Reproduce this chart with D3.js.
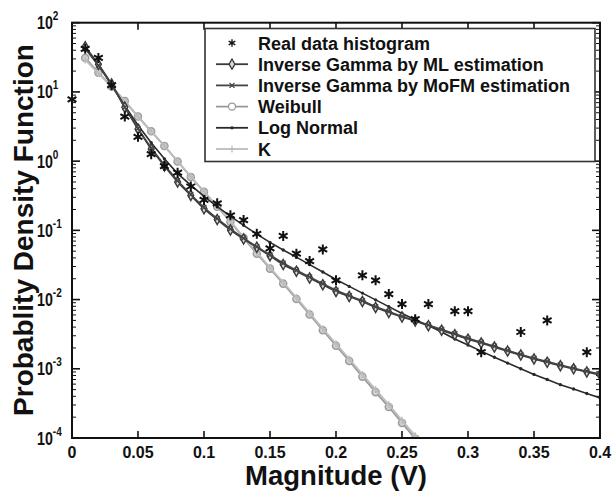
<!DOCTYPE html>
<html>
<head>
<meta charset="utf-8">
<script src="https://cdn.jsdelivr.net/npm/d3@7"></script>
<style>
    body { margin: 0; background: white; }
    svg text { font-family: "Liberation Sans", Arial, Helvetica, sans-serif; font-weight: bold; }
</style>
</head>
<body>
<svg id="chart" width="613" height="491"></svg>
<script>
// magnitude grid shared by the fitted curves
const magnitude = [0.01, 0.02, 0.03, 0.04, 0.05, 0.06, 0.07, 0.08, 0.09, 0.10,
                   0.11, 0.12, 0.13, 0.14, 0.15, 0.16, 0.17, 0.18, 0.19, 0.20,
                   0.21, 0.22, 0.23, 0.24, 0.25, 0.26, 0.27, 0.28, 0.29, 0.30,
                   0.31, 0.32, 0.33, 0.34, 0.35, 0.36, 0.37, 0.38, 0.39, 0.40];

const invGammaML = [45, 25, 13, 6.0, 2.9, 1.5, 0.85, 0.50, 0.32, 0.205,
                    0.143, 0.101, 0.075, 0.057, 0.043, 0.032, 0.0257, 0.0205, 0.0164, 0.0131,
                    0.0111, 0.0094, 0.0077, 0.0065, 0.0056, 0.0049, 0.0042, 0.0036, 0.0031, 0.00268,
                    0.00236, 0.00206, 0.0018, 0.00158, 0.00139, 0.00124, 0.00111, 0.001, 0.0009, 0.00082];

const invGammaMoFM = [42, 24, 12.8, 6.0, 2.95, 1.55, 0.88, 0.52, 0.33, 0.213,
                      0.148, 0.105, 0.077, 0.058, 0.044, 0.0335, 0.0265, 0.0212, 0.0169, 0.0136,
                      0.0114, 0.0096, 0.0079, 0.0067, 0.0057, 0.005, 0.0043, 0.0037, 0.0032, 0.00275,
                      0.00242, 0.00211, 0.00184, 0.00161, 0.00142, 0.00127, 0.00113, 0.00102, 0.00092, 0.00084];

const logNormal = [43, 25, 12.5, 6.3, 3.3, 1.85, 1.08, 0.66, 0.45, 0.31,
                   0.22, 0.16, 0.118, 0.088, 0.067, 0.052, 0.041, 0.032, 0.025, 0.0195,
                   0.0155, 0.0124, 0.0099, 0.0079, 0.0063, 0.0051, 0.0042, 0.0034, 0.0027, 0.0022,
                   0.0018, 0.00147, 0.00121, 0.001, 0.00083, 0.0007, 0.00059, 0.00051, 0.00044, 0.00038];

const weibull = [31, 19, 12, 7.4, 4.4, 2.7, 1.66, 0.99, 0.59, 0.36,
                 0.22, 0.133, 0.078, 0.046, 0.028, 0.017, 0.0102, 0.0061, 0.0036, 0.00215,
                 0.0013, 0.00077, 0.00046, 0.00028, 0.000165, 0.000098, 0.000058];

const kDist = [29, 18.5, 11.8, 7.3, 4.4, 2.7, 1.66, 1.0, 0.6, 0.365,
               0.224, 0.136, 0.08, 0.048, 0.029, 0.0177, 0.0107, 0.0064, 0.0038, 0.0023,
               0.00139, 0.00083, 0.0005, 0.000305, 0.00018, 0.000108, 0.000065];

// real data histogram (stars)
const histX = [0, 0.01, 0.02, 0.03, 0.04, 0.05, 0.06, 0.07, 0.08, 0.09, 0.10,
               0.11, 0.12, 0.13, 0.14, 0.15, 0.16, 0.17, 0.18, 0.19, 0.20,
               0.22, 0.23, 0.24, 0.25, 0.26, 0.27, 0.29, 0.30, 0.31, 0.34, 0.36, 0.39];
const histY = [7.8, 42, 31, 12.5, 4.4, 2.25, 1.26, 0.85, 0.68, 0.43, 0.275,
               0.246, 0.165, 0.141, 0.089, 0.055, 0.083, 0.046, 0.036, 0.053, 0.019,
               0.0224, 0.019, 0.012, 0.0086, 0.0052, 0.0086, 0.0068, 0.0068, 0.00174, 0.0034, 0.005, 0.00174];

const xTicks = [0, 0.05, 0.1, 0.15, 0.2, 0.25, 0.3, 0.35, 0.4];
const xTickLabels = ["0", "0.05", "0.1", "0.15", "0.2", "0.25", "0.3", "0.35", "0.4"];
const yExponents = [2, 1, 0, -1, -2, -3, -4];

const legendNames = ["Real data histogram", "Inverse Gamma by ML estimation",
                     "Inverse Gamma by MoFM estimation", "Weibull", "Log Normal", "K"];

const svg = d3.select("#chart");
const plotLeft = 72, plotRight = 600, plotTop = 22.7, plotBottom = 438;

const x = d3.scaleLinear().domain([0, 0.4]).range([plotLeft, plotRight]);
const y = d3.scaleLog().domain([1e-4, 100]).range([plotBottom, plotTop]);

svg.append("defs").append("clipPath").attr("id", "plotclip")
    .append("rect").attr("x", plotLeft).attr("y", plotTop)
    .attr("width", plotRight - plotLeft).attr("height", plotBottom - plotTop);

// ticks, inward on all four sides
let tickG = svg.append("g").attr("stroke", "#111");
xTicks.forEach(t => {
    tickG.append("line").attr("x1", x(t)).attr("x2", x(t)).attr("y1", plotBottom).attr("y2", plotBottom - 7).attr("stroke-width", 1.6);
    tickG.append("line").attr("x1", x(t)).attr("x2", x(t)).attr("y1", plotTop).attr("y2", plotTop + 7).attr("stroke-width", 1.6);
});
yExponents.forEach(e => {
    let base = Math.pow(10, e);
    tickG.append("line").attr("x1", plotLeft).attr("x2", plotLeft + 8).attr("y1", y(base)).attr("y2", y(base)).attr("stroke-width", 1.6);
    tickG.append("line").attr("x1", plotRight).attr("x2", plotRight - 8).attr("y1", y(base)).attr("y2", y(base)).attr("stroke-width", 1.6);
    if (e < 2) {
        for (let m = 2; m <= 9; m++) {
            let v = base * m;
            tickG.append("line").attr("x1", plotLeft).attr("x2", plotLeft + 4).attr("y1", y(v)).attr("y2", y(v)).attr("stroke-width", 1);
            tickG.append("line").attr("x1", plotRight).attr("x2", plotRight - 4).attr("y1", y(v)).attr("y2", y(v)).attr("stroke-width", 1);
        }
    }
});

// tick labels
svg.selectAll(".xlab").data(xTicks).enter().append("text")
    .attr("class", "xlab")
    .attr("x", d => x(d)).attr("y", 458)
    .attr("text-anchor", "middle").attr("font-size", 16).attr("font-weight", "bold").attr("fill", "#111")
    .text((d, i) => xTickLabels[i]);

// "10" with superscript exponent, condensed like the original
let ylab = svg.selectAll(".ylab").data(yExponents).enter().append("text")
    .attr("class", "ylab")
    .attr("transform", d => "translate(37," + (y(Math.pow(10, d)) + 6.5) + ") scale(0.77,1)")
    .attr("font-size", 18.5).attr("font-weight", "bold").attr("fill", "#111");
ylab.append("tspan").text("10");
ylab.append("tspan").attr("font-size", 13).attr("dy", -9).text(d => d);

// axis titles
svg.append("text").attr("x", 336).attr("y", 485).attr("text-anchor", "middle")
    .attr("font-size", 27.5).attr("font-weight", "bold").attr("fill", "#111").text("Magnitude (V)");
svg.append("text").attr("transform", "translate(33,230) rotate(-90)").attr("text-anchor", "middle")
    .attr("font-size", 28).attr("font-weight", "bold").attr("fill", "#111").text("Probablity Density Function");

// curves
const plot = svg.append("g").attr("clip-path", "url(#plotclip)");
const line = d3.line().x(d => x(d[0])).y(d => y(d[1]));

function pairs(vals) { return vals.map((v, i) => [magnitude[i], v]); }

const starPath = "M0,-5V5M-4.4,-2.5L4.4,2.5M-4.4,2.5L4.4,-2.5";
const marks = {
    diamond: d3.symbol().type(d3.symbolDiamond).size(30)(),
    cross: "M-2.5,-2.5L2.5,2.5M-2.5,2.5L2.5,-2.5",
    circle: d3.symbol().type(d3.symbolCircle).size(40)(),
    dot: d3.symbol().type(d3.symbolCircle).size(3)(),
    plus: "M-3.5,0H3.5M0,-3.5V3.5"
};

const series = [
    {vals: weibull, color: "#9a9a9a", width: 1.8, mark: "circle", fill: "#cfcfcf"},
    {vals: kDist, color: "#bdbdbd", width: 1.8, mark: "plus", fill: "none"},
    {vals: logNormal, color: "#2a2a2a", width: 1.6, mark: "dot", fill: "#2a2a2a"},
    {vals: invGammaML, color: "#3a3a3a", width: 1.8, mark: "diamond", fill: "#d8d8d8"},
    {vals: invGammaMoFM, color: "#444", width: 1.6, mark: "cross", fill: "none"}
];

series.forEach(s => {
    let data = pairs(s.vals);
    plot.append("path").datum(data).attr("d", line)
        .attr("fill", "none").attr("stroke", s.color).attr("stroke-width", s.width);
    plot.selectAll(null).data(data).enter().append("path")
        .attr("transform", d => "translate(" + x(d[0]) + "," + y(d[1]) + ")")
        .attr("d", marks[s.mark])
        .attr("fill", s.fill).attr("stroke", s.color).attr("stroke-width", 1.4);
});

// frame
svg.append("rect").attr("x", plotLeft).attr("y", plotTop).attr("width", plotRight - plotLeft).attr("height", plotBottom - plotTop)
    .attr("fill", "none").attr("stroke", "#111").attr("stroke-width", 2);

svg.append("g").selectAll(".star").data(histX).enter().append("path")
    .attr("class", "star")
    .attr("transform", (d, i) => "translate(" + x(d) + "," + y(histY[i]) + ")")
    .attr("d", starPath).attr("stroke", "#111").attr("stroke-width", 2).attr("fill", "none");

// legend
const lg = svg.append("g");
lg.append("rect").attr("x", 205).attr("y", 28.5).attr("width", 390).attr("height", 133)
    .attr("fill", "white").attr("stroke", "#333").attr("stroke-width", 1.6);

const legendStyle = [
    {color: null, mark: "star"},
    {color: "#3a3a3a", mark: "diamond", fill: "#d8d8d8"},
    {color: "#444", mark: "cross", fill: "none"},
    {color: "#9a9a9a", mark: "circle", fill: "white"},
    {color: "#2a2a2a", mark: "dot", fill: "#2a2a2a"},
    {color: "#bdbdbd", mark: "plus", fill: "none"}
];

legendNames.forEach((name, i) => {
    let cy = 43 + i * 21.2;
    let st = legendStyle[i];
    if (st.mark === "star") {
        lg.append("path")
            .attr("d", starPath).attr("stroke", "#111").attr("stroke-width", 1.8).attr("fill", "none")
            .attr("transform", "translate(232," + cy + ") scale(0.75)");
    } else {
        lg.append("line").attr("x1", 216).attr("x2", 248).attr("y1", cy).attr("y2", cy)
            .attr("stroke", st.color).attr("stroke-width", 1.8);
        lg.append("path").attr("transform", "translate(232," + cy + ")")
            .attr("d", marks[st.mark]).attr("fill", st.fill).attr("stroke", st.color).attr("stroke-width", 1.3);
    }
    lg.append("text").attr("x", 258).attr("y", cy + 6.5).attr("font-size", 18).attr("font-weight", "bold")
        .attr("fill", "#111").text(name);
});
</script>
</body>
</html>
